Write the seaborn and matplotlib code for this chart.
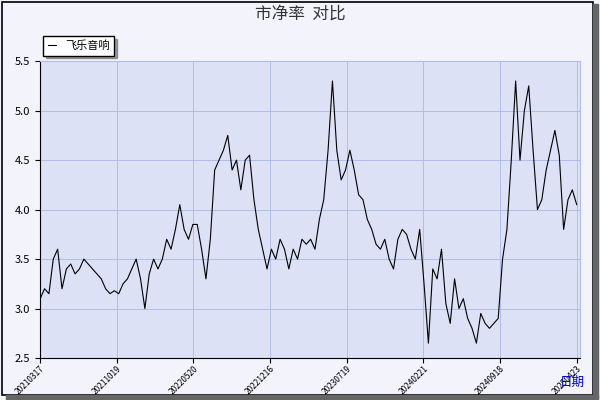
import numpy as np
import pandas as pd
import seaborn as sns
import matplotlib.pyplot as plt
from matplotlib.patches import Rectangle

# Data (value per step along the x axis)
values = [3.1, 3.2, 3.15, 3.5, 3.6, 3.2, 3.4, 3.45, 3.35, 3.4, 3.5, 3.45, 3.4, 3.35,
          3.3, 3.2, 3.15, 3.18, 3.15, 3.25, 3.3, 3.4, 3.5, 3.3, 3.0, 3.35, 3.5, 3.4,
          3.5, 3.7, 3.6, 3.8, 4.05, 3.8, 3.7, 3.85, 3.85, 3.6, 3.3, 3.7, 4.4, 4.5,
          4.6, 4.75, 4.4, 4.5, 4.2, 4.5, 4.55, 4.1, 3.8, 3.6, 3.4, 3.6, 3.5, 3.7,
          3.6, 3.4, 3.6, 3.5, 3.7, 3.65, 3.7, 3.6, 3.9, 4.1, 4.6, 5.3, 4.6, 4.3,
          4.4, 4.6, 4.4, 4.15, 4.1, 3.9, 3.8, 3.65, 3.6, 3.7, 3.5, 3.4, 3.7, 3.8,
          3.75, 3.6, 3.5, 3.8, 3.25, 2.65, 3.4, 3.3, 3.6, 3.05, 2.85, 3.3, 3.0, 3.1,
          2.9, 2.8, 2.65, 2.95, 2.85, 2.8, 2.85, 2.9, 3.5, 3.8, 4.5, 5.3, 4.5, 5.0,
          5.25, 4.6, 4.0, 4.1, 4.4, 4.6, 4.8, 4.55, 3.8, 4.1, 4.2, 4.05]
tick_labels = ['20210317', '20211019', '20220520', '20221216', '20230719',
               '20240221', '20240918', '20250423']
series_name = '飞乐音响'

df = pd.DataFrame({'x': np.arange(len(values)), 'y': values})
n = len(values) - 1
tick_pos = np.linspace(0, n, len(tick_labels))

plt.rcParams['font.family'] = ['Noto Sans CJK SC', 'DejaVu Sans']
fig = plt.figure(figsize=(6, 4), dpi=100, facecolor='#f2f3fb')
ax = fig.add_axes([0.067, 0.105, 0.9, 0.742])
ax.set_facecolor('#dce1f5')

sns.lineplot(data=df, x='x', y='y', color='black', linewidth=0.8, ax=ax, label=series_name)

ax.set_xlim(0, n + 0.8)
ax.set_ylim(2.5, 5.5)
ax.set_yticks(np.arange(2.5, 5.51, 0.5))
ax.set_yticklabels([f'{v:.1f}' for v in np.arange(2.5, 5.51, 0.5)], fontsize=8)
ax.set_xticks(tick_pos)
ax.set_xticklabels(tick_labels, rotation=45, fontsize=6, ha='right',
                   rotation_mode='anchor')
ax.tick_params(axis='x', pad=1)
ax.grid(True, color='#b0bde8', linewidth=0.7)
for s in ['top', 'right']:
    ax.spines[s].set_color('#b0bde8')
ax.set_ylabel('')
ax.set_xlabel('日期', color='#0000cc', fontsize=9)
ax.xaxis.set_label_coords(0.985, -0.06)

fig.suptitle('市净率  对比', fontsize=12, y=0.985, color='#333333')
leg = ax.legend(loc='lower left', bbox_to_anchor=(-0.005, 1.0), fontsize=8,
                frameon=True, fancybox=False, shadow=True, handlelength=0.8)
leg.get_frame().set_edgecolor('black')

fig.patches.append(Rectangle((0.003, 0.012), 0.985, 0.982, transform=fig.transFigure,
                             fill=False, edgecolor='black', linewidth=1.2))
fig.patches.append(Rectangle((0.988, 0.004), 0.008, 0.985, transform=fig.transFigure,
                             color='#666666'))
fig.patches.append(Rectangle((0.01, 0.0), 0.986, 0.012, transform=fig.transFigure,
                             color='#666666'))
fig.savefig('out.png', dpi=100, facecolor=fig.get_facecolor())
